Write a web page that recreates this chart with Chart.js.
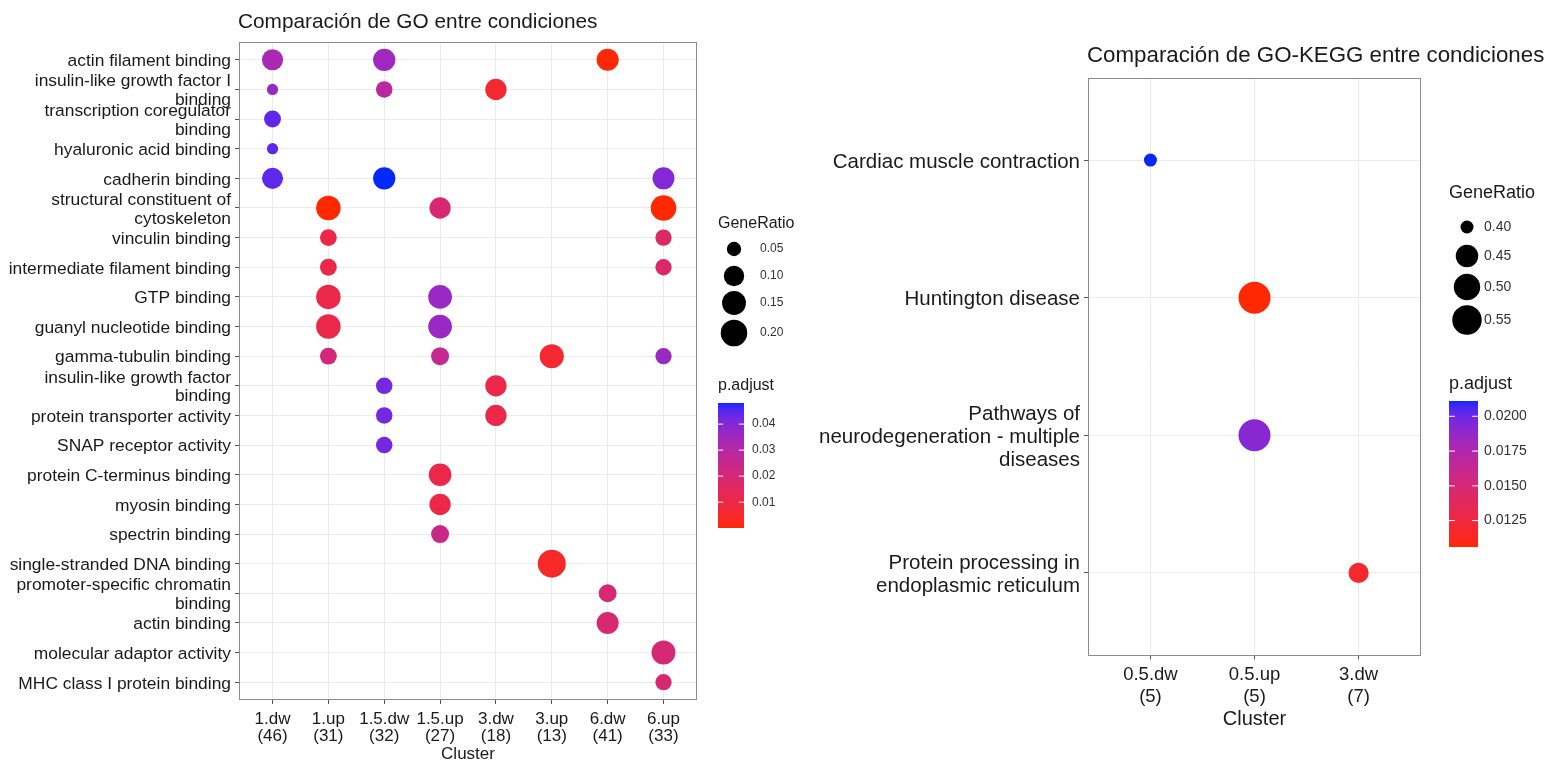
<!DOCTYPE html>
<html><head><meta charset="utf-8">
<script src="https://cdn.jsdelivr.net/npm/chart.js@4.4.1/dist/chart.umd.min.js"></script>
<style>
html,body{margin:0;padding:0;background:#fff;width:1552px;height:761px;overflow:hidden;}
canvas{position:absolute;left:0;top:0;}
</style></head>
<body>
<canvas id="go" width="1552" height="761"></canvas>
<canvas id="kegg" width="1552" height="761"></canvas>
<script>
const FONT = '"Liberation Sans", Arial, Helvetica, sans-serif';

// ---------- GO chart data ----------
const goTitle = "Comparación de GO entre condiciones";
const goClusters = ["1.dw", "1.up", "1.5.dw", "1.5.up", "3.dw", "3.up", "6.dw", "6.up"];
const goClusterSizes = [46, 31, 32, 27, 18, 13, 41, 33];
const goTerms = [
  "actin filament binding",
  "insulin-like growth factor I\nbinding",
  "transcription coregulator\nbinding",
  "hyaluronic acid binding",
  "cadherin binding",
  "structural constituent of\ncytoskeleton",
  "vinculin binding",
  "intermediate filament binding",
  "GTP binding",
  "guanyl nucleotide binding",
  "gamma-tubulin binding",
  "insulin-like growth factor\nbinding",
  "protein transporter activity",
  "SNAP receptor activity",
  "protein C-terminus binding",
  "myosin binding",
  "spectrin binding",
  "single-stranded DNA binding",
  "promoter-specific chromatin\nbinding",
  "actin binding",
  "molecular adaptor activity",
  "MHC class I protein binding"
];
const goTermIdx    = [0, 0, 0,  1, 1, 1,  2,  3,  4, 4, 4,  5, 5, 5,  6, 6,  7, 7,  8, 8,  9, 9,  10, 10, 10, 10,  11, 11,  12, 12,  13,  14,  15,  16,  17,  18,  19,  20,  21];
const goClusterIdx = [0, 2, 6,  0, 2, 4,  0,  0,  0, 2, 7,  1, 3, 7,  1, 7,  1, 7,  1, 3,  1, 3,  1, 3, 5, 7,   2, 4,   2, 4,   2,   3,   3,   3,   5,   6,   6,   7,   7];
const goGeneRatio  = [0.1087, 0.125, 0.122,  0.0435, 0.0625, 0.1111,  0.0652,  0.0435,  0.1087, 0.125, 0.1212,
                      0.1613, 0.1111, 0.1818,  0.0645, 0.0606,  0.0645, 0.0606,  0.1613, 0.1481,  0.1613, 0.1481,
                      0.0645, 0.0741, 0.1538, 0.0606,  0.0625, 0.1111,  0.0625, 0.1111,  0.0625,  0.13,  0.1111,  0.0741,
                      0.2308,  0.0732,  0.122,  0.1515,  0.0606];
const goPadjust    = [0.0327, 0.0350, 0.0006,  0.0361, 0.0289, 0.0059,  0.0443,  0.0443,  0.0443, 0.0481, 0.0399,
                      0.0001, 0.0193, 0.0003,  0.0107, 0.0169,  0.0107, 0.0169,  0.0107, 0.0361,  0.0107, 0.0361,
                      0.0207, 0.0255, 0.0059, 0.0361,  0.0419, 0.0107,  0.0419, 0.0107,  0.0419,  0.0107,  0.0107,  0.0241,
                      0.0045,  0.0193,  0.0193,  0.0200,  0.0193];
const goSizeBreaks  = [0.05, 0.10, 0.15, 0.20];
const goColorBreaks = [0.01, 0.02, 0.03, 0.04];

// ---------- KEGG chart data ----------
const keggTitle = "Comparación de GO-KEGG entre condiciones";
const keggClusters = ["0.5.dw", "0.5.up", "3.dw"];
const keggClusterSizes = [5, 5, 7];
const keggTerms = [
  "Cardiac muscle contraction",
  "Huntington disease",
  "Pathways of\nneurodegeneration - multiple\ndiseases",
  "Protein processing in\nendoplasmic reticulum"
];
const keggTermIdx    = [0, 1, 2, 3];
const keggClusterIdx = [0, 1, 1, 2];
const keggGeneRatio  = [0.40, 0.60, 0.60, 0.4286];
const keggPadjust    = [0.0211, 0.0106, 0.0192, 0.0118];
const keggSizeBreaks  = [0.40, 0.45, 0.50, 0.55];
const keggColorBreaks = [0.0125, 0.0150, 0.0175, 0.0200];

// ---------- scales (ggplot-like) ----------
function srgbToLin(c){c/=255;return c<=0.04045?c/12.92:Math.pow((c+0.055)/1.055,2.4);}
function linToSrgb(v){v=Math.max(0,Math.min(1,v));return 255*(v<=0.0031308?12.92*v:1.055*Math.pow(v,1/2.4)-0.055);}
function rgbToLab(rgb){
  const R=srgbToLin(rgb[0]),G=srgbToLin(rgb[1]),B=srgbToLin(rgb[2]);
  const X=(0.4124*R+0.3576*G+0.1805*B)/0.95047, Y=(0.2126*R+0.7152*G+0.0722*B), Z=(0.0193*R+0.1192*G+0.9505*B)/1.08883;
  const f=t=>t>0.008856?Math.cbrt(t):(7.787*t+16/116);
  const fx=f(X),fy=f(Y),fz=f(Z);
  return [116*fy-16,500*(fx-fy),200*(fy-fz)];
}
function labToRgb(lab){
  const fy=(lab[0]+16)/116, fx=fy+lab[1]/500, fz=fy-lab[2]/200;
  const fi=t=>t>0.206893?t*t*t:(t-16/116)/7.787;
  const X=0.95047*fi(fx),Y=fi(fy),Z=1.08883*fi(fz);
  return [linToSrgb(3.2406*X-1.5372*Y-0.4986*Z), linToSrgb(-0.9689*X+1.8758*Y+0.0415*Z), linToSrgb(0.0557*X-0.2040*Y+1.0570*Z)];
}
const LOW = rgbToLab([255,0,0]), HIGH = rgbToLab([0,0,255]);
function makeColorScale(values){
  const lo=Math.min(...values), hi=Math.max(...values);
  const fn = p => {
    const t=Math.max(0,Math.min(1,(p-lo)/(hi-lo)));
    const c=labToRgb([0,1,2].map(k=>LOW[k]+(HIGH[k]-LOW[k])*t));
    const g = 40 + c[1]*0.84;
    return `rgb(${Math.round(c[0])},${Math.round(g)},${Math.round(c[2])})`;
  };
  fn.lo=lo; fn.hi=hi; return fn;
}
function makeSizeScale(values, rmin, rmax){
  const lo=Math.min(...values), hi=Math.max(...values);
  return v => rmin+(rmax-rmin)*Math.sqrt(Math.max(0,(v-lo)/(hi-lo)));
}

function drawLegends(ctx, L, sizeOf, colorOf, sizeBreaks, colorBreaks){
  ctx.save();
  ctx.textAlign='left'; ctx.textBaseline='middle';
  // size legend
  ctx.fillStyle='#1a1a1a'; ctx.font=`${L.titleSize}px ${FONT}`;
  ctx.fillText('GeneRatio', L.x, L.sizeTitleY);
  sizeBreaks.forEach((b,i)=>{
    ctx.beginPath(); ctx.arc(L.keyX, L.keyY[i], sizeOf(b), 0, Math.PI*2);
    ctx.fillStyle='#000'; ctx.fill();
    ctx.fillStyle='#333'; ctx.font=`${L.labelSize}px ${FONT}`;
    ctx.fillText(b.toFixed(L.sizeDec), L.sizeLabelX, L.keyY[i]);
  });
  // colour bar
  ctx.fillStyle='#1a1a1a'; ctx.font=`${L.titleSize}px ${FONT}`;
  ctx.fillText('p.adjust', L.x, L.colTitleY);
  const top=L.barTop, bot=L.barBottom, h=bot-top;
  for(let y=top;y<bot;y++){
    const t=(bot-(y+0.5))/h;
    ctx.fillStyle=colorOf(colorOf.lo+t*(colorOf.hi-colorOf.lo));
    ctx.fillRect(L.x, y, L.barW, 1);
  }
  colorBreaks.forEach(b=>{
    const y=bot-(b-colorOf.lo)/(colorOf.hi-colorOf.lo)*h;
    ctx.strokeStyle='#fff'; ctx.lineWidth=1;
    ctx.beginPath();
    ctx.moveTo(L.x, y); ctx.lineTo(L.x+L.barW/5, y);
    ctx.moveTo(L.x+L.barW*4/5, y); ctx.lineTo(L.x+L.barW, y);
    ctx.stroke();
    ctx.fillStyle='#333'; ctx.font=`${L.labelSize}px ${FONT}`;
    ctx.fillText(b.toFixed(L.colDec), L.x+L.barW+L.labelGap, y);
  });
  ctx.restore();
}

function makeChart(id, d){
  const sizeOf = makeSizeScale(d.ratio, d.rmin, d.rmax);
  const colorOf = makeColorScale(d.padj);
  const points = d.ratio.map((v,i)=>({x:d.clusterIdx[i], y:d.termIdx[i], r:sizeOf(v)}));
  const colors = d.padj.map(p=>colorOf(p));
  const decor = {
    id:'decor_'+id,
    afterDatasetsDraw(chart){
      const {ctx, chartArea:a} = chart;
      ctx.save();
      ctx.strokeStyle='#8c8c8c'; ctx.lineWidth=1;
      ctx.strokeRect(Math.round(a.left)+0.5, Math.round(a.top)+0.5, Math.round(a.right-a.left)-1, Math.round(a.bottom-a.top)-1);
      ctx.restore();
    },
    afterDraw(chart){
      const {ctx, chartArea:a} = chart;
      ctx.save();
      ctx.fillStyle='#1a1a1a'; ctx.font=`${d.titleSize}px ${FONT}`;
      ctx.textAlign='left'; ctx.textBaseline='middle';
      ctx.fillText(d.title, a.left-1, d.titleY);
      ctx.restore();
      drawLegends(ctx, d.legend, sizeOf, colorOf, d.sizeBreaks, d.colorBreaks);
    }
  };
  const nX=d.clusters.length, nY=d.terms.length;
  return new Chart(document.getElementById(id), {
    type:'bubble',
    data:{datasets:[{data:points, backgroundColor:colors, borderWidth:0, hoverBorderWidth:0, hoverRadius:0}]},
    options:{
      responsive:false, animation:false, events:[],
      layout:{padding:{left:0, top:d.area.top, right:1552-d.area.right, bottom:d.padBottom}},
      plugins:{legend:{display:false}, tooltip:{enabled:false}, title:{display:false}},
      scales:{
        x:{type:'linear', min:-0.6, max:nX-1+0.6, bounds:'data',
          afterBuildTicks:s=>{s.ticks=d.clusters.map((_,i)=>({value:i}));},
          afterFit:s=>{s.height=d.xAxisHeight;},
          ticks:{autoSkip:false, maxRotation:0, minRotation:0, padding:d.xPad, color:'#1a1a1a',
            font:{family:FONT, size:d.xFont, lineHeight:d.xLine},
            callback:v=>[d.clusters[v], '('+d.clusterSizes[v]+')']},
          grid:{color:'#ebebeb', lineWidth:1, tickLength:4, tickColor:'#555', tickWidth:1},
          border:{display:false},
          title:{display:true, text:'Cluster', color:'#1a1a1a', padding:{top:0,bottom:0},
            font:{family:FONT, size:d.xTitleFont, lineHeight:d.xTitleLine}}
        },
        y:{type:'linear', reverse:true, min:-0.6, max:nY-1+0.6, bounds:'data',
          afterBuildTicks:s=>{s.ticks=d.terms.map((_,i)=>({value:i}));},
          afterFit:s=>{s.width=d.area.left;},
          ticks:{autoSkip:false, padding:4, color:'#1a1a1a', labelOffset:d.yOffset,
            font:{family:FONT, size:d.yFont, lineHeight:d.yLine},
            callback:v=>d.terms[v].split('\n')},
          grid:{color:'#ebebeb', lineWidth:1, tickLength:4, tickColor:'#555', tickWidth:1},
          border:{display:false}
        }
      }
    },
    plugins:[decor]
  });
}

makeChart('go', {
  title:goTitle, titleSize:20.8, titleY:22,
  clusters:goClusters, clusterSizes:goClusterSizes, terms:goTerms,
  termIdx:goTermIdx, clusterIdx:goClusterIdx, ratio:goGeneRatio, padj:goPadjust,
  sizeBreaks:goSizeBreaks, colorBreaks:goColorBreaks,
  rmin:5.6, rmax:14,
  area:{left:239, top:42, right:697}, padBottom:0, xAxisHeight:61,
  xFont:17, xLine:1.0, xPad:7, xTitleFont:17, xTitleLine:0.8, yFont:17.4, yLine:1.07, yOffset:1.5,
  legend:{x:718, titleSize:16, labelSize:12, sizeTitleY:224, keyX:734, keyY:[249,276,303,333], sizeLabelX:760, sizeDec:2,
          colTitleY:386, barTop:403, barBottom:528, barW:26, labelGap:8, colDec:2}
});
makeChart('kegg', {
  title:keggTitle, titleSize:22.3, titleY:56,
  clusters:keggClusters, clusterSizes:keggClusterSizes, terms:keggTerms,
  termIdx:keggTermIdx, clusterIdx:keggClusterIdx, ratio:keggGeneRatio, padj:keggPadjust,
  sizeBreaks:keggSizeBreaks, colorBreaks:keggColorBreaks,
  rmin:6.5, rmax:16,
  area:{left:1088, top:77.5, right:1421}, padBottom:32, xAxisHeight:73.5,
  xFont:18.5, xLine:1.17, xPad:5, xTitleFont:20, xTitleLine:1.0, yFont:20.5, yLine:1.1, yOffset:2,
  legend:{x:1449, titleSize:18, labelSize:14, sizeTitleY:193, keyX:1467, keyY:[227,256,287,320], sizeLabelX:1484, sizeDec:2,
          colTitleY:384, barTop:401, barBottom:547, barW:29, labelGap:6, colDec:4}
});
</script>
</body></html>
